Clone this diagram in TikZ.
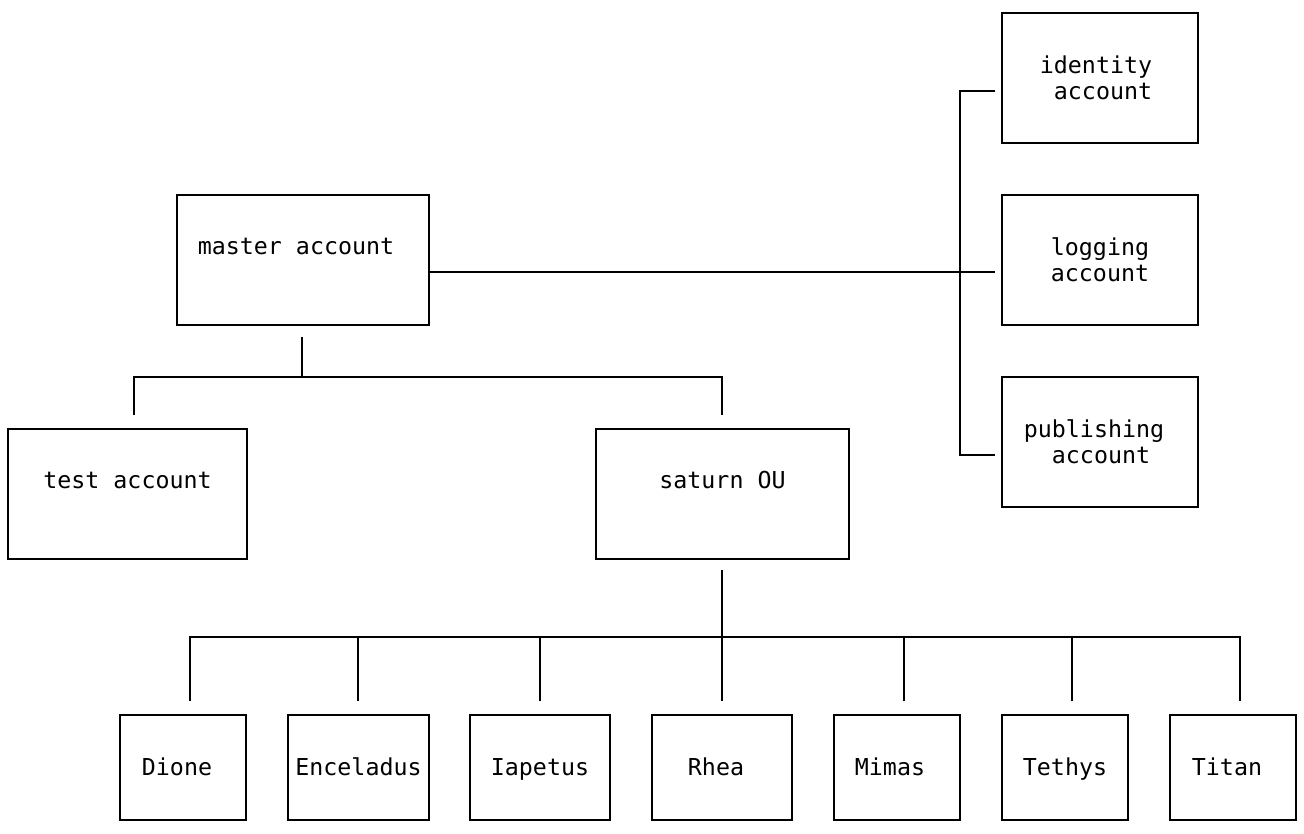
\documentclass[tikz,border=0pt]{standalone}
\usepackage{fontspec}
\newfontfamily\monofam{DejaVu Sans Mono}
\tikzset{
  box/.style={draw, line width=2pt, inner sep=0pt, outer sep=0pt, rectangle},
  bigbox/.style={box, minimum width=252pt, minimum height=130pt},
  sidebox/.style={box, minimum width=196pt, minimum height=130pt},
  moonbox/.style={box, minimum height=105pt},
  lbl/.style={font=\monofam\fontsize{23.3}{26}\selectfont, align=left, inner sep=0pt, text height=17pt, text depth=0pt},
  wire/.style={line width=2pt}
}
\begin{document}
\begin{tikzpicture}[x=1pt,y=-1pt]
\useasboundingbox (0,0) rectangle (1304,834);
% top-level boxes
\node[bigbox, label={[lbl,xshift=-7,yshift=14]center:master account}] (master) at (303,260) {};
\node[bigbox, minimum width=239pt, label={[lbl,yshift=14]center:test account}] (test) at (127.5,494) {};
\node[bigbox, minimum width=253pt, label={[lbl,yshift=14]center:saturn OU}] (saturn) at (722.5,494) {};
% right side boxes
\node[sidebox, label={[lbl,xshift=-4,yshift=-13]center:{identity\\\hphantom{x}account}}] (identity) at (1100,78) {};
\node[sidebox, label={[lbl,yshift=-13]center:{logging\\account}}] (logging) at (1100,260) {};
\node[sidebox, label={[lbl,xshift=-6,yshift=-13]center:{publishing\\\hphantom{xx}account}}] (publishing) at (1100,442) {};
% moons
\node[moonbox, minimum width=126pt, label={[lbl,xshift=-6,yshift=1]center:Dione}] (dione) at (183,767.5) {};
\node[moonbox, minimum width=141pt, label={[lbl,yshift=1]center:Enceladus}] (enceladus) at (358.5,767.5) {};
\node[moonbox, minimum width=140pt, label={[lbl,yshift=1]center:Iapetus}] (iapetus) at (540,767.5) {};
\node[moonbox, minimum width=140pt, label={[lbl,xshift=-6,yshift=1]center:Rhea}] (rhea) at (722,767.5) {};
\node[moonbox, minimum width=126pt, label={[lbl,xshift=-7,yshift=1]center:Mimas}] (mimas) at (897,767.5) {};
\node[moonbox, minimum width=126pt, label={[lbl,yshift=1]center:Tethys}] (tethys) at (1065,767.5) {};
\node[moonbox, minimum width=126pt, label={[lbl,xshift=-6,yshift=1]center:Titan}] (titan) at (1233,767.5) {};
% master to right-side accounts
\draw[wire] ([yshift=-12]master.east) -- ([xshift=-7,yshift=-12]logging.west);
\draw[wire] ([xshift=-7,yshift=-13]identity.west) -- ++(-35,0) |- ([xshift=-7,yshift=-13]publishing.west);
% master to test / saturn
\draw[wire] ([xshift=-1,yshift=-12]master.south) -- ++(0,40);
\draw[wire] ([xshift=6.5,yshift=14]test.north) |- ([xshift=-0.5,yshift=52]saturn.north) -- ([xshift=-0.5,yshift=14]saturn.north);
% saturn to moons
\draw[wire] ([xshift=-0.5,yshift=-11]saturn.south) -- ([yshift=14]rhea.north);
\draw[wire] ([xshift=7,yshift=14]dione.north) |- ([xshift=7,yshift=78]titan.north) -- ([xshift=7,yshift=14]titan.north);
\draw[wire] ([xshift=-0.5,yshift=14]enceladus.north) -- ++(0,-64);
\draw[wire] ([yshift=14]iapetus.north) -- ++(0,-64);
\draw[wire] ([xshift=7,yshift=14]mimas.north) -- ++(0,-64);
\draw[wire] ([xshift=7,yshift=14]tethys.north) -- ++(0,-64);
\end{tikzpicture}
\end{document}
